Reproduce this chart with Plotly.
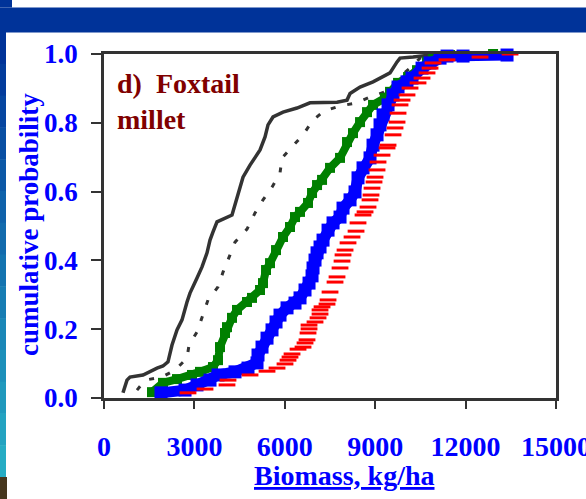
import plotly.graph_objects as go

# ---------------- data ----------------
solid_x = [630, 763, 863, 1294, 1759, 1958, 2124, 2257, 2423, 2589, 2755, 2854, 3087, 3253, 3419, 3518,
           3618, 3750, 4248, 4414, 4613, 4846, 5178, 5344, 5443, 5609, 5941, 6405, 6837, 7733, 8065, 8165,
           8264, 8497, 8928, 9260, 9492, 9725, 9824, 10255, 10820]
solid_p = [0.015, 0.052, 0.061, 0.067, 0.087, 0.093, 0.105, 0.154, 0.198, 0.227, 0.279, 0.305, 0.349, 0.381,
           0.422, 0.459, 0.483, 0.512, 0.532, 0.584, 0.642, 0.677, 0.721, 0.759, 0.794, 0.817, 0.831, 0.843,
           0.858, 0.860, 0.866, 0.885, 0.890, 0.904, 0.919, 0.933, 0.945, 0.977, 0.988, 0.991, 0.997]

dot_x = [1095, 1361, 1925, 2356, 2755, 2821, 3087, 3452, 3784, 3950, 4182, 4348, 4746, 5012, 5277, 5576,
         5841, 5908, 6240, 6605, 6937, 7302, 7833, 8397, 8828, 9326, 9758, 10156, 10488, 11152]
dot_p = [0.023, 0.052, 0.061, 0.081, 0.116, 0.154, 0.192, 0.285, 0.323, 0.366, 0.416, 0.453, 0.491, 0.538,
         0.576, 0.613, 0.654, 0.698, 0.730, 0.765, 0.808, 0.834, 0.849, 0.858, 0.875, 0.890, 0.930, 0.959,
         0.988, 1.0]

green_x = [1593, 1958, 2423, 2921, 3186, 3618, 3784, 3850, 4016, 4082, 4248, 4414, 4746, 4912, 5178, 5277,
           5377, 5510, 5709, 5941, 6173, 6339, 6505, 6771, 6904, 7070, 7236, 7501, 7833, 8065, 8264, 8497,
           8729, 8928, 9326, 9492, 9758, 10090, 10388, 10720, 10919, 11484, 12911]
green_p = [0.017, 0.044, 0.055, 0.067, 0.076, 0.090, 0.110, 0.148, 0.189, 0.206, 0.233, 0.256, 0.279, 0.291,
           0.314, 0.334, 0.372, 0.392, 0.430, 0.468, 0.497, 0.526, 0.541, 0.567, 0.596, 0.619, 0.634, 0.669,
           0.698, 0.744, 0.770, 0.802, 0.831, 0.852, 0.872, 0.890, 0.916, 0.933, 0.953, 0.977, 0.988, 0.997, 1.0]

blue_x = [1891, 2689, 3087, 3518, 3784, 4348, 4779, 5078, 5111, 5244, 5410, 5576, 5709, 5841, 6074, 6339,
          6505, 6671, 6804, 6904, 6937, 7003, 7070, 7169, 7269, 7435, 7601, 7833, 7932, 8165, 8331, 8430,
          8596, 8828, 8928, 9061, 9160, 9260, 9426, 9592, 9758, 10056, 10222, 10554, 10820, 11152, 11384,
          11915, 13375]
blue_p = [0.015, 0.023, 0.038, 0.052, 0.067, 0.076, 0.087, 0.102, 0.125, 0.148, 0.174, 0.198, 0.221, 0.241,
          0.262, 0.276, 0.291, 0.314, 0.334, 0.355, 0.378, 0.401, 0.422, 0.439, 0.459, 0.488, 0.509, 0.526,
          0.552, 0.576, 0.599, 0.640, 0.669, 0.698, 0.735, 0.765, 0.794, 0.823, 0.852, 0.881, 0.904, 0.919,
          0.930, 0.959, 0.974, 0.988, 0.994, 0.994, 0.997]

red_x = [2788, 3352, 4082, 4115, 4846, 5410, 5742, 6007, 6107, 6173, 6240, 6439, 6605, 6671, 6737, 6771,
         6804, 6804, 7003, 7103, 7169, 7169, 7236, 7401, 7435, 7501, 7667, 7733, 7833, 7899, 7932, 7999,
         8098, 8231, 8364, 8430, 8596, 8663, 8762, 8828, 8861, 8895, 8961, 8994, 9061, 9094, 9227, 9393,
         9426, 9592, 9658, 9725, 9758, 9824, 9891, 10056, 10156, 10421, 10554, 10720, 10820, 10919, 11384,
         12479, 13475]
red_p = [0.015, 0.026, 0.038, 0.052, 0.067, 0.078, 0.087, 0.099, 0.110, 0.119, 0.128, 0.142, 0.148, 0.160,
         0.169, 0.189, 0.201, 0.212, 0.221, 0.233, 0.244, 0.256, 0.265, 0.273, 0.285, 0.308, 0.337, 0.352,
         0.378, 0.398, 0.416, 0.430, 0.451, 0.468, 0.485, 0.509, 0.532, 0.541, 0.555, 0.576, 0.590, 0.610,
         0.628, 0.642, 0.663, 0.686, 0.706, 0.727, 0.735, 0.765, 0.785, 0.802, 0.828, 0.852, 0.866, 0.881,
         0.901, 0.916, 0.930, 0.945, 0.959, 0.974, 0.983, 0.991, 1.0]

x_ticks = [0, 3000, 6000, 9000, 12000, 15000]
y_ticks = [0.0, 0.2, 0.4, 0.6, 0.8, 1.0]
panel_label = "d)  Foxtail<br>millet"
x_title = "Biomass, kg/ha"
y_title = "cumulative probability"

# ---------------- layout geometry ----------------
W, H = 586, 499
L, R, T, B = 104, 30, 54, 101
PW, PH = W - L - R, H - T - B


def px(xp):
    return (xp - L) / PW


def py(yp):
    return (H - B - yp) / PH


fig = go.Figure()

fig.add_trace(go.Scatter(x=solid_x, y=solid_p, mode="lines",
                         line=dict(color="#333333", width=3.5), cliponaxis=False, showlegend=False))
fig.add_trace(go.Scatter(x=dot_x, y=dot_p, mode="lines",
                         line=dict(color="#333333", width=3, dash="5px,12px"), cliponaxis=False,
                         showlegend=False))
fig.add_trace(go.Scatter(x=green_x, y=green_p, mode="lines+markers",
                         line=dict(color="#008000", width=8),
                         marker=dict(symbol="square", size=10, color="#008000"),
                         cliponaxis=False, showlegend=False))
fig.add_trace(go.Scatter(x=blue_x, y=blue_p, mode="lines+markers",
                         line=dict(color="#0000ff", width=11),
                         marker=dict(symbol="square", size=13, color="#0000ff"),
                         cliponaxis=False, showlegend=False))
fig.add_trace(go.Scatter(x=red_x, y=red_p, mode="markers",
                         marker=dict(symbol="line-ew", size=12, color="#ff0000",
                                     line=dict(color="#ff0000", width=3)),
                         cliponaxis=False, showlegend=False))

shapes = []
# top band
shapes.append(dict(type="rect", xref="paper", yref="paper", x0=px(0), x1=px(W), y0=py(32.5), y1=py(7.5),
                   fillcolor="rgb(0,51,153)", line=dict(width=0), layer="below"))
shapes.append(dict(type="rect", xref="paper", yref="paper", x0=px(0), x1=px(12), y0=py(7.5), y1=py(0),
                   fillcolor="rgb(0,51,153)", line=dict(width=0), layer="below"))
# left gradient strip
n = 14
y_start, y_end = 32.0, 477.0
c0, c1 = (0, 51, 153), (38, 172, 196)
for i in range(n):
    ya = y_start + (y_end - y_start) * i / n
    yb = y_start + (y_end - y_start) * (i + 1) / n + 0.5
    t = i / (n - 1)
    col = "rgb(%d,%d,%d)" % tuple(round(c0[k] + (c1[k] - c0[k]) * t) for k in range(3))
    shapes.append(dict(type="rect", xref="paper", yref="paper", x0=px(0), x1=px(6), y0=py(yb), y1=py(ya),
                       fillcolor=col, line=dict(width=0), layer="below"))
shapes.append(dict(type="rect", xref="paper", yref="paper", x0=px(0), x1=px(7), y0=py(H), y1=py(477),
                   fillcolor="rgb(70,55,30)", line=dict(width=0), layer="below"))

serif = "Liberation Serif, Times New Roman, serif"

annotations = [
    dict(text="<b>%s</b>" % panel_label, xref="paper", yref="paper", x=px(115), y=py(66),
         xanchor="left", yanchor="top", align="left", showarrow=False,
         font=dict(family=serif, size=28, color="rgb(128,0,0)")),
    dict(text="<b><u>%s</u></b>" % x_title, xref="paper", yref="paper", x=px(344), y=py(475),
         xanchor="center", yanchor="middle", showarrow=False,
         font=dict(family=serif, size=28, color="#0000ff")),
    dict(text="<b>%s</b>" % y_title, xref="paper", yref="paper", x=px(29), y=py(225),
         xanchor="center", yanchor="middle", textangle=-90, showarrow=False,
         font=dict(family=serif, size=27, color="#0000ff")),
]

fig.update_layout(
    width=W, height=H, autosize=False,
    margin=dict(l=L, r=R, t=T, b=B, pad=0, autoexpand=False),
    paper_bgcolor="white", plot_bgcolor="white",
    shapes=shapes, annotations=annotations,
    xaxis=dict(range=[0, 15000], tickvals=x_ticks, ticktext=[str(v) for v in x_ticks],
               showgrid=False, zeroline=False, showline=True, mirror=True, automargin=False,
               linecolor="#333333", linewidth=2.5, ticks="outside", ticklen=8, tickwidth=1.5,
               tickcolor="#333333", ticklabelstandoff=14, ticklabeloverflow="allow",
               tickfont=dict(family=serif, size=28, color="#0000ff", weight="bold")),
    yaxis=dict(range=[0, 1], tickvals=y_ticks, ticktext=["%.1f" % v for v in y_ticks],
               showgrid=False, zeroline=False, showline=True, mirror=True, automargin=False,
               linecolor="#333333", linewidth=2.5, ticks="outside", ticklen=10, tickwidth=1.5,
               tickcolor="#333333", ticklabelstandoff=8,
               tickfont=dict(family=serif, size=27, color="#0000ff", weight="bold")),
)

fig.write_html("out.html")
